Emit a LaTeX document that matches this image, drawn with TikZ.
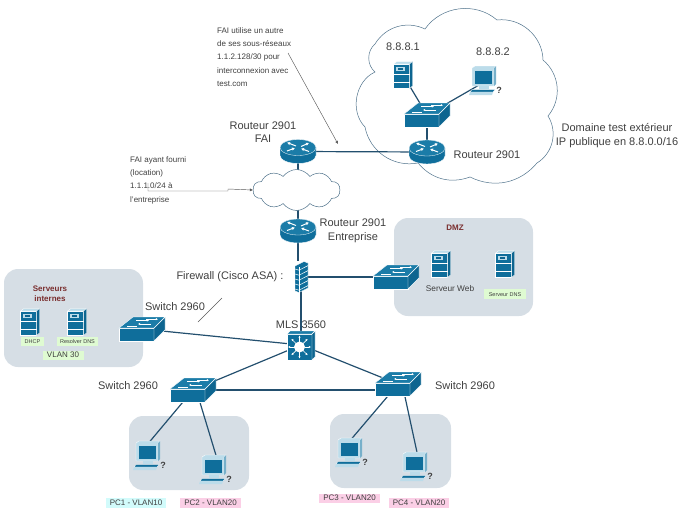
\documentclass[tikz,border=0pt]{standalone}
\usepackage{fontspec}
\usepackage{xcolor}
\setmainfont{Liberation Sans}
\usetikzlibrary{
    arrows.meta,
    shapes.symbols
}
\definecolor{iconblue}{HTML}{0F6E9B}
\definecolor{icontop}{HTML}{1B7CA8}
\definecolor{icondark}{HTML}{0D6590}
\definecolor{iconpale}{HTML}{BCDCEA}
\definecolor{panelgrey}{HTML}{D6DEE5}
\definecolor{linkblue}{HTML}{234F6E}
\definecolor{textgrey}{HTML}{3F3F3F}
\definecolor{darkred}{HTML}{7A2E2E}
\definecolor{tagcyan}{HTML}{D2FBFB}
\definecolor{tagpink}{HTML}{FBCFE6}
\definecolor{taggreen}{HTML}{DFFBD2}

\begin{document}
\begin{tikzpicture}[
    x=1pt,
    y=-1pt,
    font=\fontsize{11}{13.5}\selectfont,
    text=textgrey,
    panel/.style={fill=panelgrey, rounded corners=14pt},
    link/.style={draw=linkblue, line width=1.2pt},
    pointer/.style={draw=black!65, line width=0.45pt},
    outline/.style={draw=linkblue!80, line width=0.5pt},
    label/.style={inner sep=0pt, align=center},
    note/.style={inner sep=0pt, align=left, anchor=west,
        font=\fontsize{8}{13.3}\selectfont},
    title/.style={inner sep=0pt, align=center, text=darkred,
        font=\fontsize{8}{10.2}\selectfont\bfseries},
    tag/.style={inner sep=0pt, text height=5pt, text depth=1pt,
        font=\fontsize{8}{10}\selectfont, minimum height=9.5pt},
    tiny/.style={tag, font=\fontsize{5.5}{7}\selectfont},
    routerbox/.style={inner sep=0pt, minimum width=36pt, minimum height=24pt},
    switchbox/.style={inner sep=0pt, minimum width=46pt, minimum height=23pt},
    serverbox/.style={inner sep=0pt, minimum width=19pt, minimum height=27pt},
    pcbox/.style={inner sep=0pt, minimum width=34pt, minimum height=29pt},
    wallbox/.style={inner sep=0pt, minimum width=13pt, minimum height=31pt},
    mlsbox/.style={inner sep=0pt, minimum width=29pt, minimum height=29pt},
    flow/.style={white, line width=0.7pt, -{Latex[length=2.2pt,width=2.4pt]}},
    bigflow/.style={white, line width=1pt, -{Latex[length=3pt,width=3.4pt]}},
    pics/router/.style={code={
        \fill[iconblue, draw=white, line width=0.4pt]
            (-18,-4) -- (-18,4) arc[start angle=180, end angle=360, x radius=18, y radius=-8]
            -- (18,-4) arc[start angle=0, end angle=180, x radius=18, y radius=-8] -- cycle;
        \fill[icontop, draw=white, line width=0.3pt] (0,-4) ellipse[x radius=18, y radius=8];
        \draw[bigflow] (-2,-5.5) -- (-11,-9);
        \draw[bigflow] (-11,-0.5) -- (-3,-3.5);
        \draw[bigflow] (3,-5) -- (11,-8.5);
        \draw[bigflow] (11,0) -- (3,-3);
    }},
    pics/switch/.style={code={
        \fill[iconblue, draw=white, line width=0.4pt] (-23,-1) rectangle (12,12);
        \fill[icondark, draw=white, line width=0.4pt] (12,-1) -- (23,-12) -- (23,1) -- (12,12) -- cycle;
        \fill[icontop, draw=white, line width=0.4pt] (-23,-1) -- (-9,-12) -- (23,-12) -- (12,-1) -- cycle;
        \draw[flow] (-6,-8.5) -- (7,-8.5);
        \draw[flow] (9,-5) -- (-4,-5);
        \draw[flow] (4,-9.8) -- (16,-9.8);
        \draw[white, line width=0.4pt] (-15,-3) -- (-5,-3);
    }},
    pics/server/.style={code={
        \fill[iconblue, draw=white, line width=0.4pt] (-9.5,-11) rectangle (6.5,13.5);
        \fill[iconpale, draw=white, line width=0.3pt] (-9.5,-11) -- (-6,-13.5) -- (9.5,-13.5) -- (6.5,-11) -- cycle;
        \fill[icondark, draw=white, line width=0.3pt] (6.5,-11) -- (9.5,-13.5) -- (9.5,11) -- (6.5,13.5) -- cycle;
        \fill[iconpale] (-7,-8) rectangle (2,-4);
        \fill[icondark] (-5,-7) rectangle (0,-5);
        \draw[white, line width=0.7pt] (-9.5,-1) -- (6.5,-1) (-9.5,7) -- (6.5,7);
    }},
    pics/pc/.style={code={
        \fill[iconpale, draw=white, line width=0.4pt] (-14,-13) -- (-11,-15) -- (10,-15) -- (8,-13) -- (8,5) -- (-14,5) -- cycle;
        \fill[iconpale!60!iconblue] (8,-13) -- (10,-15) -- (10,3) -- (8,5) -- cycle;
        \fill[iconblue] (-11.5,-10.5) rectangle (5.5,2.5);
        \fill[iconpale] (-7,5) rectangle (3,8);
        \fill[iconblue, draw=white, line width=0.3pt] (-14,8.5) -- (9,8.5) -- (7,11) -- (-16,11) -- cycle;
        \fill[iconpale] (-16,11) -- (7,11) -- (6,14) -- (-17,14) -- cycle;
        \node[inner sep=0pt, text=textgrey, font=\fontsize{9}{9}\selectfont\bfseries] (mark) at (13,9) {?};
    }},
    pics/wall/.style={code={
        \fill[iconblue, draw=white, line width=0.4pt]
            (-6,-11) -- (3,-15.5) -- (7,-14) -- (7,11) -- (-2,15.5) -- (-6,14) -- cycle;
        \foreach \y in {-8,-3,2,7,12}
            \draw[white, line width=0.5pt] (-6,\y) -- (-2,\y+1.2) -- (7,\y-3.4);
        \draw[white, line width=0.5pt] (-2,-9.8) -- (-2,15.5);
    }},
    pics/mls/.style={code={
        \fill[iconblue, draw=white, line width=0.4pt] (-14,-11) rectangle (11,15);
        \fill[icontop, draw=white, line width=0.4pt] (-14,-11) -- (-11,-14) -- (14,-14) -- (11,-11) -- cycle;
        \fill[icondark, draw=white, line width=0.4pt] (11,-11) -- (14,-14) -- (14,12) -- (11,15) -- cycle;
        \foreach \a in {0,45,...,315}
            \draw[flow] (-1.5,2) ++(\a:5) -- ++(\a:6.5);
        \fill[white] (-1.5,2) circle[radius=5.5];
    }}
]
\useasboundingbox (0,0) rectangle (690,525);

\fill[panel] (4,269) rectangle (143,367);
\fill[panel] (394,218) rectangle (533,316);
\fill[panel] (129,416) rectangle (249,490);
\fill[panel] (330,414) rectangle (451,488);

\draw[outline] (375,44) to[bend left=42] (425,29) to[bend left=48] (497,20)
    to[bend left=48] (543,60) to[bend left=45] (548,116) to[bend left=45] (537,163)
    to[bend left=38] (470,177) to[bend left=35] (418,163) to[bend left=45] (365,127)
    to[bend left=55] (375,72) to[bend left=50] cycle;

\node[routerbox] (fai) at (298,151.5) {};
\node[routerbox] (dest) at (427,152) {};
\node[routerbox] (ent) at (298,231) {};
\node[switchbox] (swext) at (427,115) {};
\node[switchbox] (swdmz) at (396,277) {};
\node[switchbox] (swint) at (142,329) {};
\node[switchbox] (swleft) at (193,390) {};
\node[switchbox] (swright) at (398,384) {};
\node[serverbox] (dns) at (403,75) {};
\node[serverbox] (dhcp) at (30,322) {};
\node[serverbox] (resolver) at (77,322) {};
\node[serverbox] (web) at (441,264) {};
\node[serverbox] (dnsdmz) at (505,264) {};
\node[pcbox] (host) at (486,81) {};
\node[pcbox] (pcone) at (150,456) {};
\node[pcbox] (pctwo) at (216,470) {};
\node[pcbox] (pcthree) at (352,453) {};
\node[pcbox] (pcfour) at (417,467) {};
\node[wallbox] (asa) at (301,277) {};
\node[mlsbox] (mls) at (301,345) {};

\draw[link] (fai.center) -- (dest.center);
\draw[link] (dest.center) -- (swext.center);
\draw[link] (swext.center) -- (dns.center);
\draw[link] (swext.center) -- (host.center);
\draw[link] (fai.center) -- (ent.center);
\draw[link] (ent.south) -- (ent.south |- asa.north);
\draw[link] (asa.center) -- (mls.center);
\draw[link] (asa.center) -- (swdmz.center);
\draw[link] (mls.center) -- (swint.center);
\draw[link] (mls.center) -- (swleft.center);
\draw[link] (mls.center) -- (swright.center);
\draw[link] (swleft.center) -- (swleft.center -| swright.center);
\draw[link] (swleft.230) -- (pcone.north);
\draw[link] (swleft.300) -- (pctwo.north);
\draw[link] (swright.230) -- (pcthree.north);
\draw[link] (swright.300) -- (pcfour.north);

\node[cloud, draw=linkblue!80, fill=white, line width=0.5pt, cloud puffs=10,
    cloud puff arc=110, aspect=2.1, minimum width=87pt, minimum height=41pt,
    inner sep=0pt] (inet) at (296.5,190) {};

\foreach \n in {fai,dest,ent} \pic at (\n) {router};
\foreach \n in {swext,swdmz,swint,swleft,swright} \pic at (\n) {switch};
\foreach \n in {dns,dhcp,resolver,web,dnsdmz} \pic at (\n) {server};
\foreach \n in {host,pcone,pctwo,pcthree,pcfour} \pic at (\n) {pc};
\pic at (asa) {wall};
\pic at (mls) {mls};

\node[note] (subnet) at (217,57)
{FAI utilise un autre\\de ses sous-réseaux\\1.1.2.128/30 pour\\interconnexion avec\\test.com};
\node[note] (location) at (130,180)
{FAI ayant fourni\\(location)\\1.1.1.0/24 à\\l'entreprise};

\coordinate (subnetfrom) at (288,53);
\coordinate (subnetto) at (338,144);
\coordinate (locationfrom) at (148,183);
\coordinate (slashtop) at (222,298);
\coordinate (slashend) at (198,322);

\draw[pointer, -{Latex[length=3pt,width=3pt]}] (subnetfrom) -- (subnetto);
\draw[pointer, -{Latex[length=3pt,width=3pt]}] (locationfrom) -- ++(0,8) -- ++(80,0) -- ++(0,-2) -- (inet.west);
\draw[pointer] (slashtop) -- (slashend);

\node[label] (faitext) at (263,132) {Routeur 2901\\FAI};
\node[label] (destext) at (487,155) {Routeur 2901};
\node[label] (enttext) at (353,231) {Routeur 2901\\Entreprise};
\node[label] (dnstext) at (403,47) {8.8.8.1};
\node[label] (hosttext) at (493,52) {8.8.8.2};
\node[label] (domain) at (617,135.5) {Domaine test extérieur\\IP publique en 8.8.0.0/16};
\node[label] (asatext) at (230,277) {Firewall (Cisco ASA) :};
\node[label] (mlstext) at (301,325) {MLS 3560};
\node[label] (swinttext) at (175,307) {Switch 2960};
\node[label] (swlefttext) at (128,386) {Switch 2960};
\node[label] (swrighttext) at (465,386) {Switch 2960};

\node[title] (internal) at (50,294) {Serveurs\\internes};
\node[title] (dmz) at (455,228) {DMZ};
\node[label, font=\fontsize{8.3}{10}\selectfont] (webtext) at (450,289) {Serveur Web};

\node[tiny, fill=taggreen, minimum width=23pt] (dhcptext) at (32.5,341.5) {DHCP};
\node[tiny, fill=taggreen, minimum width=41pt] (resolvertext) at (77.5,341.5) {Resolver DNS};
\node[tag, fill=taggreen, minimum width=41pt] (vlantext) at (63,355.5) {VLAN 30};
\node[tiny, fill=taggreen, minimum width=42pt] (dnsdmztext) at (505,294) {Serveur DNS};
\node[tag, fill=tagcyan, minimum width=60pt] (pconetext) at (136,503) {PC1 - VLAN10};
\node[tag, fill=tagpink, minimum width=61pt] (pctwotext) at (210.5,503) {PC2 - VLAN20};
\node[tag, fill=tagpink, minimum width=61pt] (pcthreetext) at (349.5,498.5) {PC3 - VLAN20};
\node[tag, fill=tagpink, minimum width=60pt] (pcfourtext) at (419,503) {PC4 - VLAN20};

\end{tikzpicture}
\end{document}
